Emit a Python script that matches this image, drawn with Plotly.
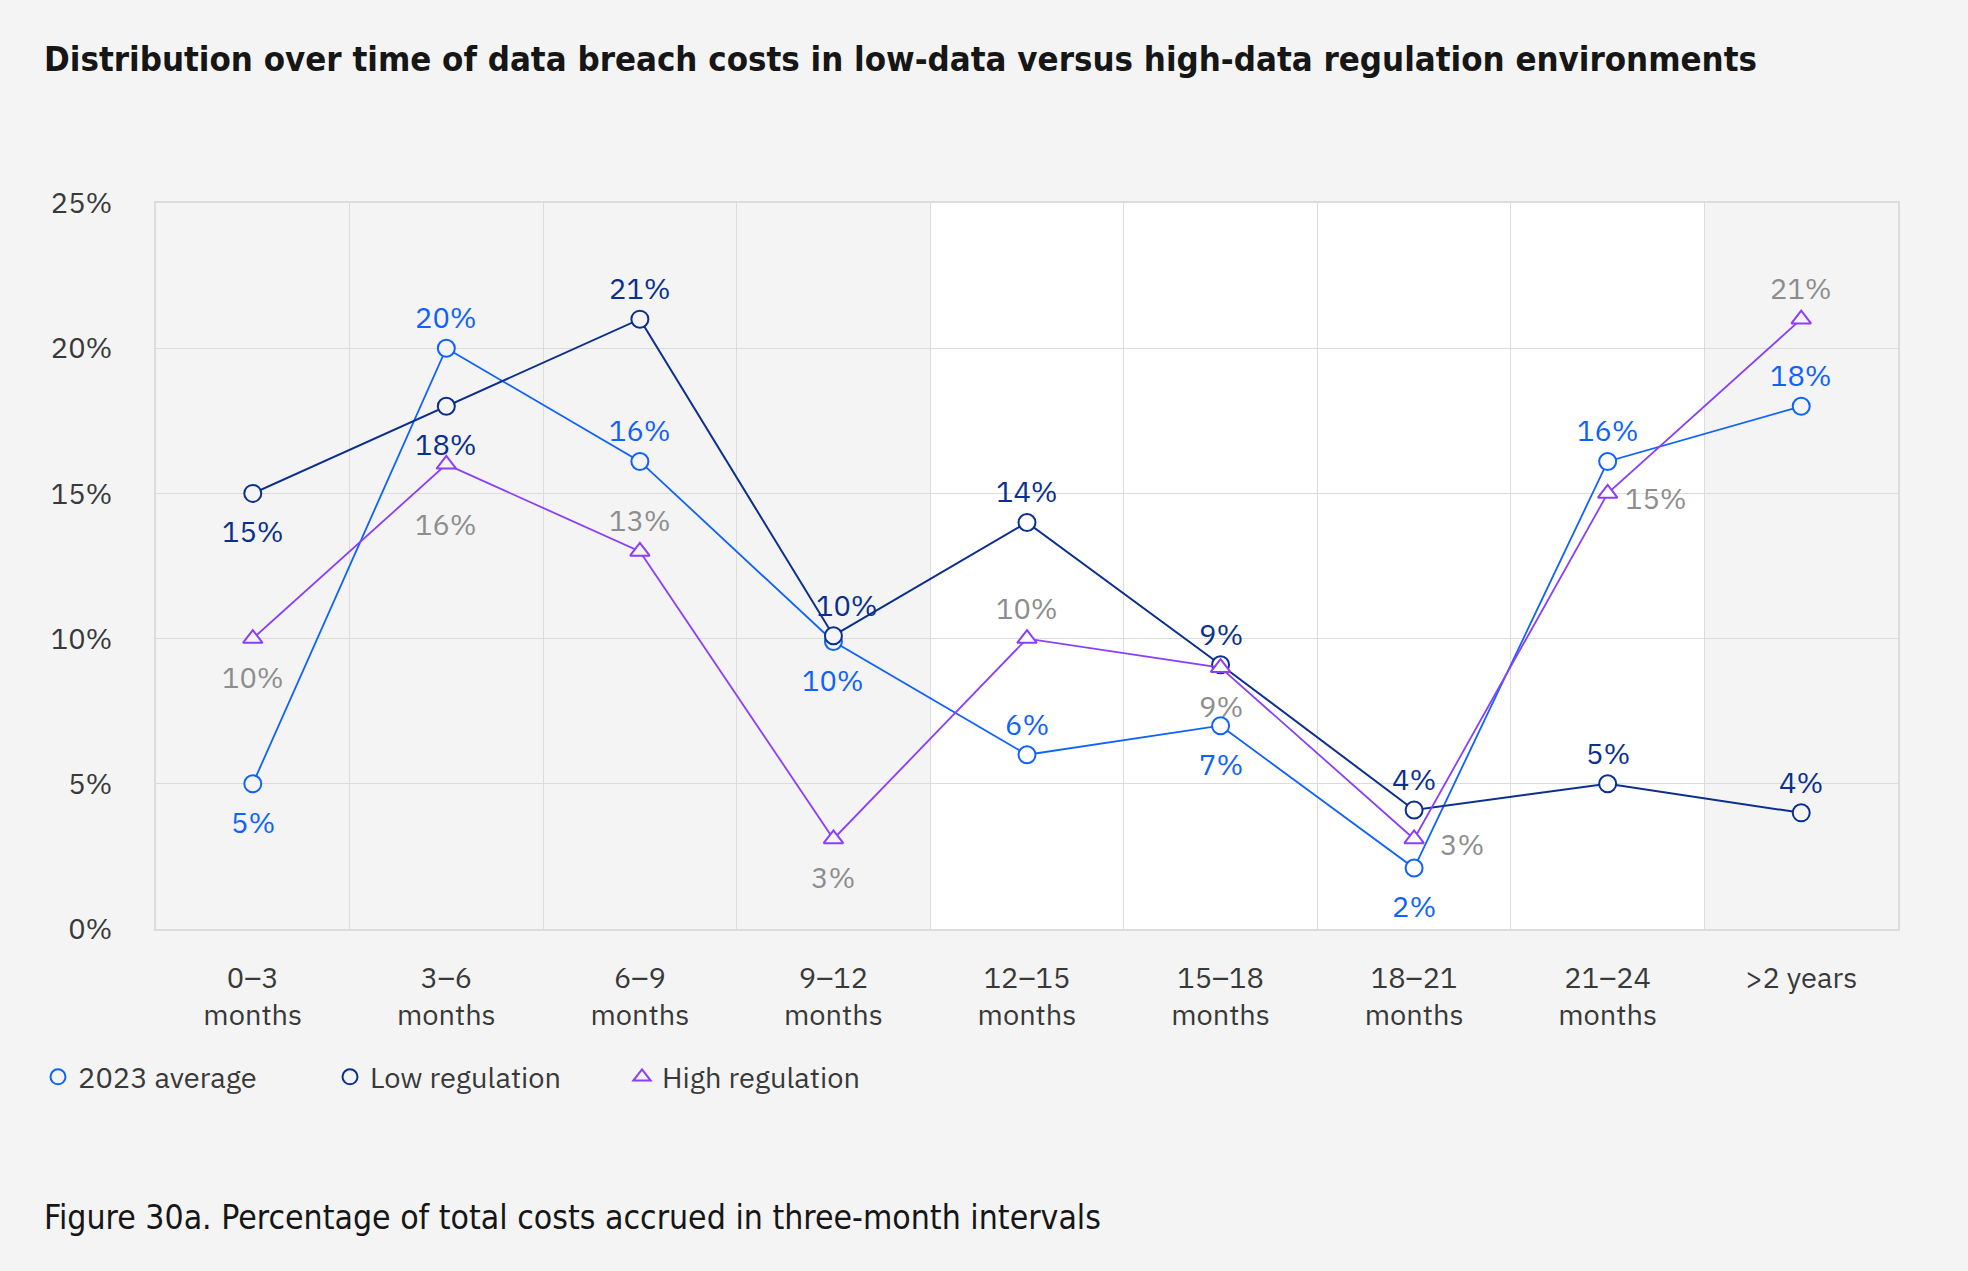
import plotly.graph_objects as go

categories = ["0–3<br>months", "3–6<br>months", "6–9<br>months", "9–12<br>months",
              "12–15<br>months", "15–18<br>months", "18–21<br>months", "21–24<br>months",
              ">2 years"]
avg_2023 = [5, 20, 16.1, 9.9, 6, 7, 2.1, 16.1, 18]
low_reg = [15, 18, 21, 10.1, 14, 9.1, 4.1, 5, 4]
high_reg = [10, 16, 13, 3.1, 10, 9, 3.1, 15, 21]
y_ticks = [0, 5, 10, 15, 20, 25]

# label placement codes: t = above, b = below, bb = further below, r = right, tr = above, nudged right
avg_pos = ["b", "t", "t", "b", "t", "b", "b", "t", "t"]
low_pos = ["b", "b", "t", "tr", "t", "t", "t", "t", "t"]
high_pos = ["b", "bb", "t", "b", "t", "b", "r", "r", "t"]

BG = "#f4f4f4"
C_AVG = "#0f62fe"
C_LOW = "#0a2f8f"
C_HIGH = "#8a3ffc"
LBL_HIGH = "#8d8d8d"
TXT = "#393939"
FONT = "IBM Plex Sans, Roboto, Arial, sans-serif"
COND = "DejaVu Sans Condensed, Liberation Sans Narrow, Roboto Condensed, Roboto, sans-serif"

W, H = 1968, 1271
L, R, T, B = 156, 70, 203, 342

# marker fill matches column background (white for middle columns)
fills = [BG if (i < 4 or i > 7) else "#ffffff" for i in range(len(categories))]

fig = go.Figure()
series = [
    ("2023 average", avg_2023, C_AVG, "circle", C_AVG, avg_pos, 1.8),
    ("Low regulation", low_reg, C_LOW, "circle", C_LOW, low_pos, 2.0),
    ("High regulation", high_reg, C_HIGH, "triangle-up", LBL_HIGH, high_pos, 1.8),
]
for name, vals, col, sym, lcol, pos, lw in series:
    fig.add_trace(go.Scatter(
        x=categories, y=vals, name=name, mode="lines+markers",
        line=dict(color=col, width=lw),
        marker=dict(symbol=sym, size=17, color=fills, line=dict(color=col, width=2)),
        cliponaxis=False, showlegend=False,
    ))
# legend entries (marker only)
for name, vals, col, sym, lcol, pos, lw in series:
    fig.add_trace(go.Scatter(
        x=[None], y=[None], name=name, mode="markers",
        marker=dict(symbol=sym, size=15, color=BG, line=dict(color=col, width=2)),
        showlegend=True,
    ))

shift = {"t": (0, 31), "tr": (14, 31), "b": (0, -38), "bb": (0, -60), "r": (48, -5)}
for name, vals, col, sym, lcol, pos, lw in series:
    for c, v, p in zip(categories, vals, pos):
        dx, dy = shift[p]
        fig.add_annotation(
            x=c, y=v, xref="x", yref="y", text=f"{round(v)}%", showarrow=False,
            xshift=dx, yshift=dy, xanchor="center", yanchor="middle",
            font=dict(family=FONT, size=29, color=lcol),
        )

fig.add_shape(type="rect", xref="x", yref="paper", x0=3.5, x1=7.5, y0=0, y1=1,
              fillcolor="#ffffff", line=dict(width=0), layer="below")

fig.add_annotation(
    text="Figure 30a. Percentage of total costs accrued in three-month intervals",
    xref="paper", yref="paper", x=(42 - L) / (W - L - R), y=(H - B - 1217) / (H - T - B),
    xanchor="left", yanchor="middle", showarrow=False,
    font=dict(family=COND, size=33.5, color="#161616"),
)

fig.update_layout(
    width=W, height=H,
    margin=dict(l=L, r=R, t=T, b=B, autoexpand=False),
    paper_bgcolor=BG, plot_bgcolor=BG,
    title=dict(text="<b>Distribution over time of data breach costs in low-data versus high-data regulation environments</b>",
               xref="container", yref="container", x=44 / W, y=1 - 59 / H,
               xanchor="left", yanchor="middle",
               font=dict(family=COND, size=34.5, color="#161616")),
    font=dict(family=FONT, size=29, color=TXT),
    showlegend=True,
    legend=dict(orientation="h", xref="container", yref="container",
                x=38 / W, y=1 - 1077 / H, xanchor="left", yanchor="middle",
                font=dict(family=FONT, size=29, color=TXT),
                bgcolor="rgba(0,0,0,0)", entrywidth=247, entrywidthmode="pixels"),
    xaxis=dict(type="category", tickson="boundaries", showgrid=True, gridcolor="#dcdcdc",
               gridwidth=1.2, showline=True, mirror=True, linecolor="#dcdcdc", linewidth=1.5,
               ticks="", ticklabelstandoff=22, range=[-0.5, 8.5],
               tickfont=dict(family=FONT, size=29, color=TXT)),
    yaxis=dict(range=[0, 25], tickvals=y_ticks, ticktext=[f"{t}%" for t in y_ticks],
               showgrid=True, gridcolor="#dcdcdc", gridwidth=1.2, zeroline=False,
               showline=True, mirror=True, linecolor="#dcdcdc", linewidth=1.5,
               ticks="", ticklabelstandoff=36,
               tickfont=dict(family=FONT, size=29, color=TXT)),
)

fig.write_html(
    "out.html",
    config={"displayModeBar": False},
    post_script="document.body.style.margin='0';document.body.style.background='#f4f4f4';",
)
